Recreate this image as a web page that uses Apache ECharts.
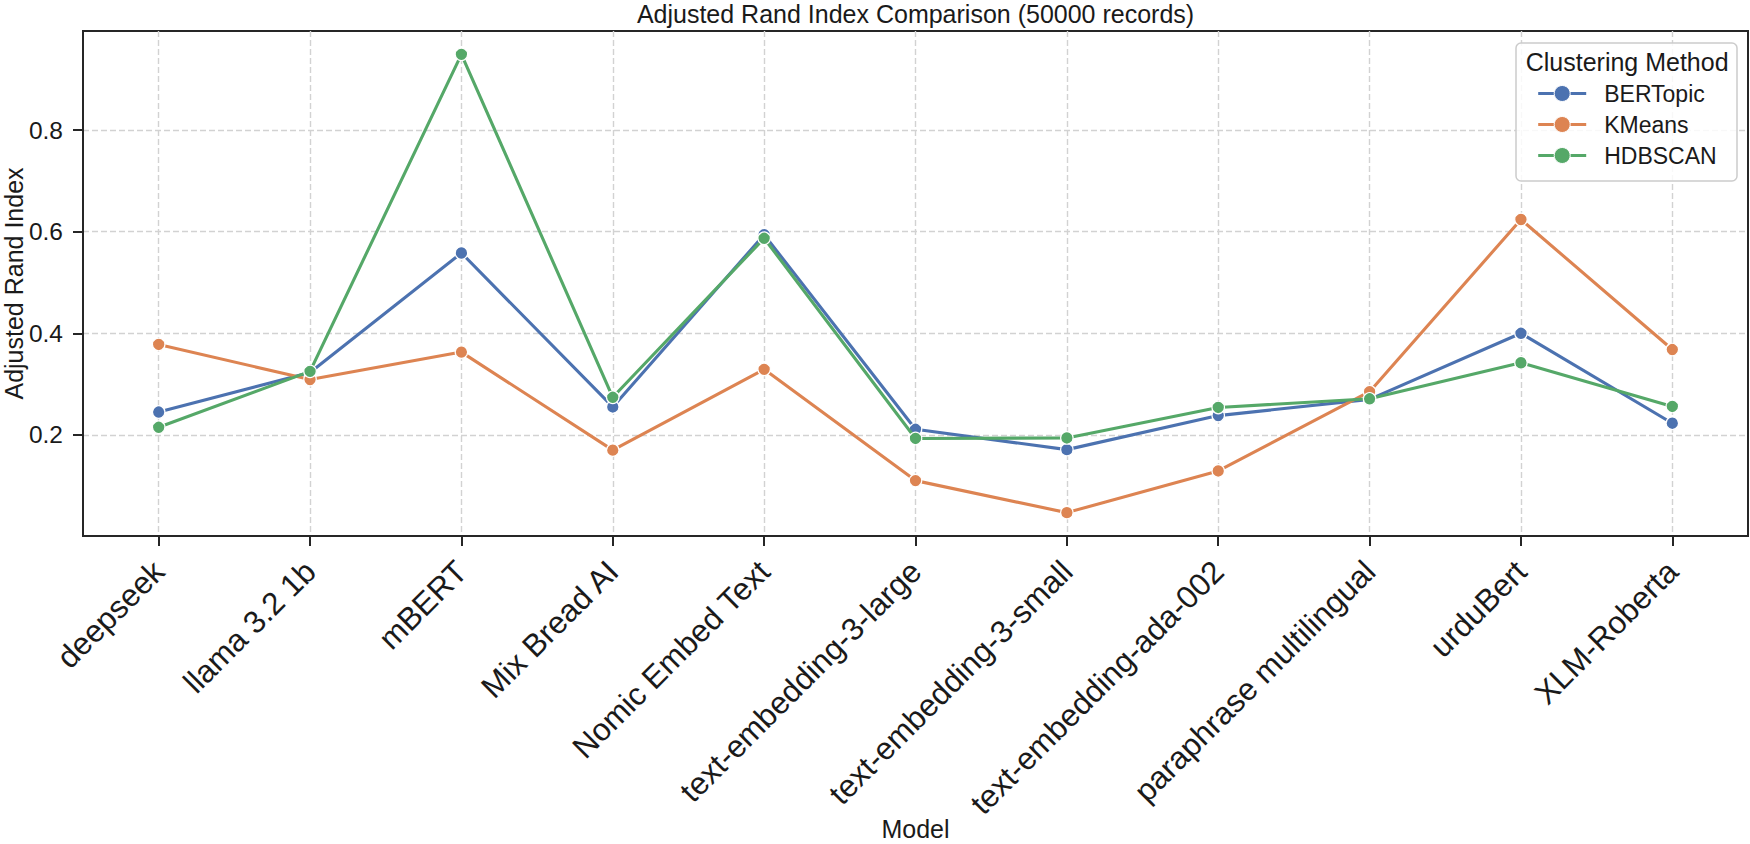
<!DOCTYPE html>
<html>
<head>
<meta charset="utf-8">
<script src="https://cdn.jsdelivr.net/npm/echarts@6/dist/echarts.min.js"></script>
<style>
html,body{margin:0;padding:0;background:#fff;}
#chart{width:1750px;height:844px;}
</style>
</head>
<body>
<div id="chart"></div>
<script>
const categories = ['deepseek','llama 3.2 1b','mBERT','Mix Bread AI','Nomic Embed Text','text-embedding-3-large','text-embedding-3-small','text-embedding-ada-002','paraphrase multilingual','urduBert','XLM-Roberta'];
const seriesNames = ['BERTopic','KMeans','HDBSCAN'];
const bertopic = [0.245, 0.323, 0.558, 0.255, 0.594, 0.211, 0.171, 0.238, 0.270, 0.400, 0.223];
const kmeans   = [0.378, 0.309, 0.363, 0.170, 0.329, 0.110, 0.047, 0.129, 0.285, 0.624, 0.368];
const hdbscan  = [0.215, 0.325, 0.949, 0.274, 0.587, 0.193, 0.194, 0.254, 0.271, 0.342, 0.256];
const yTicks = [0.2, 0.4, 0.6, 0.8];

const FONT = "'Liberation Sans', Arial, Helvetica, sans-serif";
const TXT = '#1a1a1a';
const SPINE = '#262626';
const GRIDC = '#d2d2d2';
const colors = ['#4C72B0', '#DD8452', '#55A868'];
const values = [bertopic, kmeans, hdbscan];

const chart = echarts.init(document.getElementById('chart'), null, {renderer: 'svg'});

const option = {
  animation: false,
  backgroundColor: '#ffffff',
  color: colors,
  textStyle: {fontFamily: FONT, color: TXT},
  grid: {
    left: 83, right: 2, top: 31, bottom: 308,
    containLabel: false,
    outerBoundsMode: 'none',
    show: true, borderColor: SPINE, borderWidth: 2, backgroundColor: 'transparent'
  },
  graphic: [
    {
      type: 'text', x: 915.5, y: 13.5, z: 20,
      style: {text: 'Adjusted Rand Index Comparison (50000 records)', font: '25px ' + FONT,
              fill: TXT, textAlign: 'center', textVerticalAlign: 'middle'}
    },
    {
      type: 'rect', z: 10,
      shape: {x: 1516, y: 43, width: 221, height: 138, r: 5},
      style: {fill: 'rgba(255,255,255,0.85)', stroke: '#cccccc', lineWidth: 1.5}
    },
    {
      type: 'text', x: 1525.7, y: 62, z: 11,
      style: {text: 'Clustering Method', font: '25px ' + FONT, fill: TXT,
              textAlign: 'left', textVerticalAlign: 'middle'}
    }
  ],
  legend: {
    data: seriesNames,
    orient: 'vertical',
    left: 1536.7, top: 82,
    itemWidth: 48, itemHeight: 20, itemGap: 8,
    padding: 0,
    z: 12,
    lineStyle: {width: 3},
    itemStyle: {borderWidth: 1, borderColor: '#ffffff'},
    textStyle: {fontSize: 23, fontFamily: FONT, color: TXT, padding: [0, 0, 0, 13]}
  },
  xAxis: {
    type: 'category',
    data: categories,
    boundaryGap: true,
    name: 'Model',
    nameLocation: 'middle',
    nameGap: 280,
    nameMoveOverlap: false,
    nameTextStyle: {fontSize: 25, fontFamily: FONT, color: TXT},
    axisLine: {show: true, lineStyle: {color: SPINE, width: 2}},
    axisTick: {show: true, alignWithLabel: true, length: 10, lineStyle: {color: SPINE, width: 2}},
    axisLabel: {rotate: 45, interval: 0, margin: 30, fontSize: 31.5, fontFamily: FONT, color: TXT},
    splitLine: {show: true, alignWithLabel: true, lineStyle: {color: GRIDC, width: 1.4, type: [6, 3]}}
  },
  yAxis: {
    type: 'value',
    min: 0.001, max: 0.995,
    name: 'Adjusted Rand Index',
    nameLocation: 'middle',
    nameGap: 57,
    nameMoveOverlap: false,
    nameRotate: 90,
    nameTextStyle: {fontSize: 25, fontFamily: FONT, color: TXT},
    axisLine: {show: true, lineStyle: {color: SPINE, width: 2}},
    axisTick: {show: true, length: 10, customValues: yTicks, lineStyle: {color: SPINE, width: 2}},
    axisLabel: {customValues: yTicks, margin: 20, fontSize: 24.5, fontFamily: FONT, color: TXT,
                formatter: v => v.toFixed(1)},
    splitLine: {show: true, lineStyle: {color: GRIDC, width: 1.4, type: [6, 3]}}
  },
  series: seriesNames.map((name, i) => ({
    name: name,
    type: 'line',
    data: values[i],
    symbol: 'circle',
    symbolSize: 12.5,
    showSymbol: true,
    lineStyle: {width: 3.1, color: colors[i]},
    itemStyle: {color: colors[i], borderColor: '#ffffff', borderWidth: 1.2},
    emphasis: {disabled: true},
    z: 3 + i
  }))
};
chart.setOption(option);
</script>
</body>
</html>
